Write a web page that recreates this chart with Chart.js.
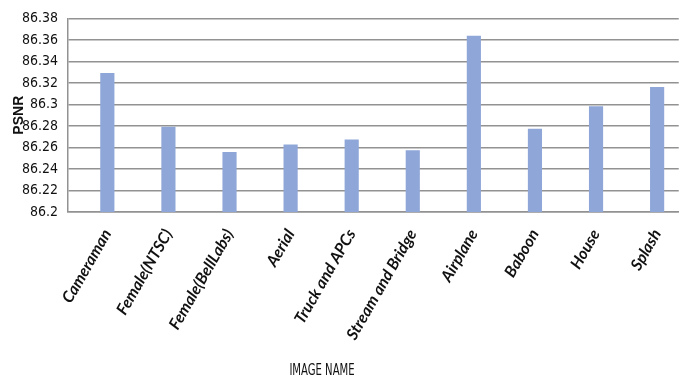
<!DOCTYPE html>
<html>
<head>
<meta charset="utf-8">
<script src="https://cdn.jsdelivr.net/npm/chart.js@4.4.0/dist/chart.umd.min.js"></script>
<style>
html,body{margin:0;padding:0;background:#fff;}
#wrap{width:688px;height:383px;position:relative;}
</style>
</head>
<body>
<div id="wrap"><canvas id="c" width="688" height="383"></canvas></div>
<script>
const categories = ['Cameraman','Female(NTSC)','Female(BellLabs)','Aerial','Truck and APCs','Stream and Bridge','Airplane','Baboon','House','Splash'];
const psnr = [86.329, 86.279, 86.2555, 86.2625, 86.267, 86.257, 86.3635, 86.277, 86.298, 86.316];
const yTickLabels = ['86.2','86.22','86.24','86.26','86.28','86.3','86.32','86.34','86.36','86.38'];
const yTitle = 'PSNR';
const xTitle = 'IMAGE NAME';

const sansFam = '"DejaVu Sans Condensed", "Liberation Sans", Arial, sans-serif';

const xTitlePlugin = {
  id: 'xTitlePlugin',
  afterDraw(chart) {
    const ctx = chart.ctx;
    ctx.save();
    ctx.font = '16px "DejaVu Sans Condensed", "Liberation Sans", Arial, sans-serif';
    ctx.fillStyle = '#111';
    ctx.textAlign = 'center';
    ctx.textBaseline = 'middle';
    ctx.translate(322, 371);
    ctx.scale(0.7, 1);
    ctx.fillText(xTitle, 0, 0);
    ctx.restore();
  }
};

new Chart(document.getElementById('c'), {
  type: 'bar',
  data: {
    datasets: [{
      data: psnr.map((v, i) => ({x: i, y: v})),
      backgroundColor: '#8FA6D8',
      borderWidth: 0,
      barThickness: 13.5
    }]
  },
  options: {
    responsive: false,
    animation: false,
    events: [],
    layout: {padding: {top: 15, right: 7, left: 0, bottom: 0}},
    plugins: {legend: {display: false}, tooltip: {enabled: false}, title: {display: false}},
    scales: {
      x: {
        type: 'linear',
        offset: false,
        min: -0.644,
        max: 9.354,
        afterFit(s) { s.height = 171; },
        afterBuildTicks(s) { s.ticks = categories.map((c, i) => ({value: i})); },
        grid: {display: false, drawTicks: false},
        border: {display: true, color: '#929292', width: 1.5},
        ticks: {
          stepSize: 1,
          autoSkip: false,
          minRotation: 60,
          maxRotation: 60,
          padding: 14,
          color: '#111',
          font: {family: 'Lato, sans-serif', size: 16, weight: 'bold', style: 'italic'},
          callback: (v) => categories[v]
        }
      },
      y: {
        min: 86.2,
        max: 86.38,
        afterFit(s) { s.width = 68; },
        grid: {color: '#929292', lineWidth: 1.5, drawTicks: false},
        border: {display: true, color: '#929292', width: 1.5},
        ticks: {
          stepSize: 0.02,
          padding: 10,
          color: '#111',
          font: {family: sansFam, size: 14},
          callback: (v, i) => yTickLabels[i]
        },
        title: {
          display: true,
          text: yTitle,
          color: '#111',
          font: {family: '"Liberation Sans", Arial, sans-serif', size: 14, weight: 'bold'},
          padding: {top: 11, bottom: 0}
        }
      }
    }
  },
  plugins: [xTitlePlugin]
});
</script>
</body>
</html>
